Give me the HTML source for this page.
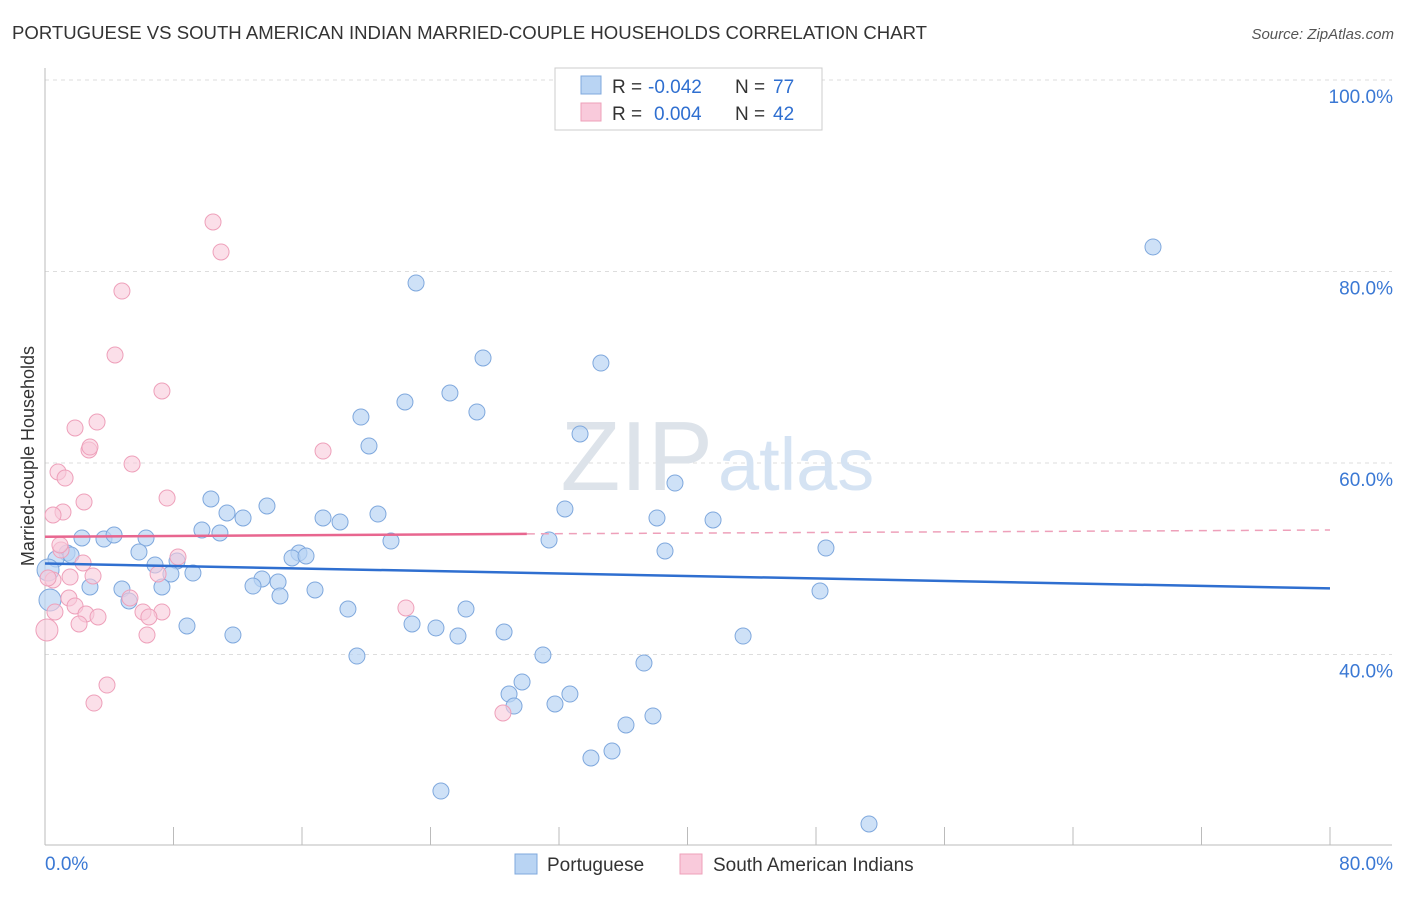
<!DOCTYPE html>
<html><head><meta charset="utf-8"><style>
body{margin:0;background:#fff;font-family:"Liberation Sans",sans-serif}
svg text{font-family:"Liberation Sans",sans-serif}
</style></head><body>
<svg width="1406" height="892">
<text x="12" y="39" font-size="18" fill="#333" textLength="915" lengthAdjust="spacingAndGlyphs">PORTUGUESE VS SOUTH AMERICAN INDIAN MARRIED-COUPLE HOUSEHOLDS CORRELATION CHART</text>
<text x="1394" y="39" font-size="15" fill="#555" font-style="italic" text-anchor="end">Source: ZipAtlas.com</text>
<g id="grid"></g>
<text x="713" y="490" font-size="98" fill="#dde3ea" font-family="Liberation Serif" text-anchor="end">ZIP</text>
<text x="718" y="490" font-size="74" fill="#d5e3f3">atlas</text>
<g id="axes"></g>
<g id="pts"></g>
<g id="lines"></g>
<text x="34" y="456" font-size="18" fill="#333" transform="rotate(-90 34 456)" text-anchor="middle">Married-couple Households</text>
<g>
<rect x="555" y="68" width="267" height="62" fill="#fff" stroke="#ccc"/>
<rect x="581" y="76" width="20" height="18" fill="#b9d4f3" stroke="#7fa8dd"/>
<rect x="581" y="103" width="20" height="18" fill="#f9cadb" stroke="#eea0ba"/>
<text x="612" y="93" font-size="19" fill="#333">R =</text>
<text x="648" y="93" font-size="19" fill="#2f6fd0">-0.042</text>
<text x="735" y="93" font-size="19" fill="#333">N =</text>
<text x="773" y="93" font-size="19" fill="#2f6fd0">77</text>
<text x="612" y="120" font-size="19" fill="#333">R =</text>
<text x="654" y="120" font-size="19" fill="#2f6fd0">0.004</text>
<text x="735" y="120" font-size="19" fill="#333">N =</text>
<text x="773" y="120" font-size="19" fill="#2f6fd0">42</text>
</g>
<g>
<rect x="515" y="854" width="22" height="20" fill="#b9d4f3" stroke="#7fa8dd"/>
<text x="547" y="871" font-size="19" fill="#333">Portuguese</text>
<rect x="680" y="854" width="22" height="20" fill="#f9cadb" stroke="#eea0ba"/>
<text x="713" y="871" font-size="19" fill="#333">South American Indians</text>
</g>
</svg>
<script>
const xTicks=[0,8,16,24,32,40,48,56,64,72,80];
const yTicks=[40,60,80,100];
const yTickLabels=["40.0%","60.0%","80.0%","100.0%"];
const bluePx=[[1153,247],[416,283],[483,358],[601,363],[450,393],[405,402],[477,412],[361,417],[369,446],[580,434],[675,483],[211,499],[267,506],[227,513],[243,518],[323,518],[340,522],[378,514],[565,509],[657,518],[713,520],[202,530],[220,533],[146,538],[82,538],[104,539],[114,535],[391,541],[549,540],[826,548],[665,551],[139,552],[67,553],[56,559],[71,555],[155,565],[177,561],[171,574],[193,573],[299,553],[292,558],[306,556],[262,579],[278,582],[253,586],[90,587],[122,589],[162,587],[280,596],[315,590],[129,601],[348,609],[466,609],[820,591],[187,626],[233,635],[412,624],[436,628],[458,636],[504,632],[743,636],[357,656],[543,655],[644,663],[522,682],[509,694],[570,694],[514,706],[555,704],[653,716],[626,725],[612,751],[591,758],[441,791],[869,824],[50,600],[48,570]];
const pinkPx=[[213,222],[221,252],[122,291],[115,355],[162,391],[97,422],[75,428],[89,450],[90,447],[132,464],[323,451],[58,472],[65,478],[84,502],[167,498],[63,512],[53,515],[61,550],[178,557],[83,563],[158,574],[93,576],[70,577],[53,580],[48,578],[69,598],[75,606],[130,598],[143,612],[162,612],[86,614],[98,617],[149,617],[147,635],[79,624],[406,608],[107,685],[94,703],[503,713],[47,630],[55,612],[60,545]];
const blueX=bluePx.map(p=>+((p[0]-45)/1285*80).toFixed(2));
const blueY=bluePx.map(p=>+(100-(p[1]-80)/9.575).toFixed(2));
const pinkX=pinkPx.map(p=>+((p[0]-45)/1285*80).toFixed(2));
const pinkY=pinkPx.map(p=>+(100-(p[1]-80)/9.575).toFixed(2));
const blueTrend=[49.5,46.9];
const pinkTrend=[52.3,52.6,53.0];
const sx=v=>45+v/80*1285, sy=v=>80+(100-v)*9.575;
const NS="http://www.w3.org/2000/svg";
function mk(t,a,parent){const e=document.createElementNS(NS,t);for(const k in a)e.setAttribute(k,a[k]);document.getElementById(parent).appendChild(e);return e;}
yTicks.forEach((v,i)=>{
 const l=mk('line',{x1:45,x2:1392,y1:sy(v),y2:sy(v),stroke:'#ddd','stroke-dasharray':'4,4'},'grid');
 
 
 const t=mk('text',{x:1393,y:sy(v)+23,'font-size':19,fill:'#3a78d4','text-anchor':'end'},'grid');
 t.textContent=yTickLabels[i];
 
 
});
const ax=mk('line',{x1:45,x2:1392,y1:845,y2:845,stroke:'#bbb'},'axes');


const ay=mk('line',{x1:45,x2:45,y1:68,y2:845,stroke:'#bbb'},'axes');


xTicks.forEach(v=>{const t=mk('line',{x1:sx(v),x2:sx(v),y1:827,y2:845,stroke:'#bbb'},'axes');
 
 });
[[0,"0.0%",'start',45],[80,"80.0%",'end',1393]].forEach(d=>{const t=mk('text',{x:d[3],y:870,'font-size':19,fill:'#3a78d4','text-anchor':d[2]},'axes');t.textContent=d[1];
 
 });
blueX.forEach((x,i)=>{const c=mk('circle',{cx:sx(x),cy:sy(blueY[i]),r:(i>=75?11:8),fill:'#b9d4f3','fill-opacity':0.7,stroke:'#7fa8dd'},'pts');
 
 });
pinkX.forEach((x,i)=>{const c=mk('circle',{cx:sx(x),cy:sy(pinkY[i]),r:(i==39?11:8),fill:'#f9cadb','fill-opacity':0.6,stroke:'#eea0ba'},'pts');
 
 });
const bl=mk('line',{x1:sx(0),x2:sx(80),y1:sy(blueTrend[0]),y2:sy(blueTrend[1]),stroke:'#2f6fd0','stroke-width':2.5},'lines');


const pl=mk('line',{x1:sx(0),x2:sx(30),y1:sy(pinkTrend[0]),y2:sy(pinkTrend[1]),stroke:'#e8668f','stroke-width':2.5},'lines');


const pd=mk('line',{x1:sx(30),x2:sx(80),y1:sy(pinkTrend[1]),y2:sy(pinkTrend[2]),stroke:'#eea0ba','stroke-width':1.5,'stroke-dasharray':'8,6'},'lines');


</script>
</body></html>
